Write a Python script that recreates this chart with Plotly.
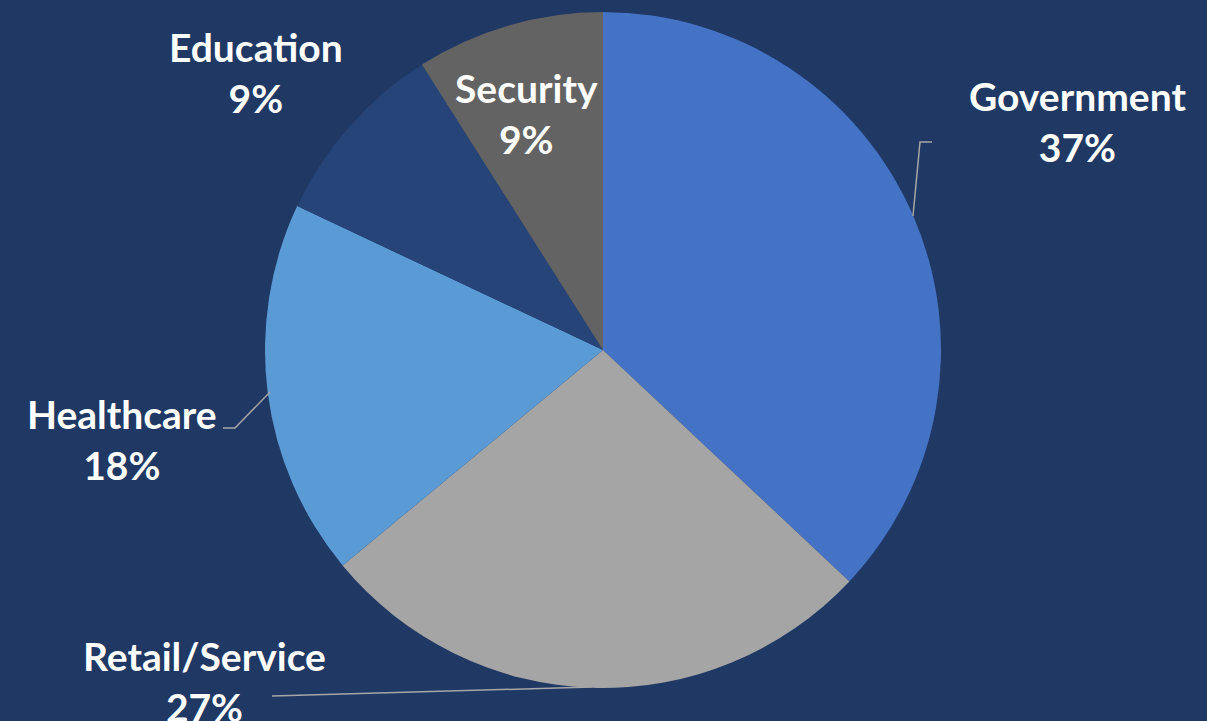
import plotly.graph_objects as go

# Sector share of respondents
sectors = ["Government", "Retail/Service", "Healthcare", "Education", "Security"]
shares = [37, 27, 18, 9, 9]
colors = ["#4472C4", "#A5A5A5", "#5B9BD5", "#264478", "#636363"]

W, H = 1207, 721
BG = "#203864"
FONT = "Lato"


def px(x, y):
    """Pixel position (top-left origin) -> paper fraction."""
    return x / W, 1 - y / H


# pie occupies a square of 676 px centred at (603, 350)
cx, cy, r = 603, 350, 338
x0, y1 = px(cx - r, cy - r)
x1, y0 = px(cx + r, cy + r)

fig = go.Figure()
fig.add_trace(go.Pie(
    labels=sectors,
    values=shares,
    sort=False,
    direction="clockwise",
    rotation=0,
    marker=dict(colors=colors, line=dict(width=0)),
    textinfo="none",
    hoverinfo="label+percent",
    showlegend=False,
    domain=dict(x=[x0, x1], y=[y0, y1]),
))

# label centres (pixels)
label_pos = {
    "Government": (1077, 121),
    "Retail/Service": (204, 681),
    "Healthcare": (122, 440),
    "Education": (256, 73),
    "Security": (526, 113),
}

annotations = []
for name, val in zip(sectors, shares):
    lx, ly = px(*label_pos[name])
    annotations.append(dict(
        x=lx, y=ly, xref="paper", yref="paper",
        text=f"<b>{name}<br>{val}%</b>",
        showarrow=False, xanchor="center", yanchor="middle",
        font=dict(family=FONT, size=39, color="white"),
    ))

# leader lines (pixel polylines)
leaders = [
    [(913, 216), (920, 142), (932, 142)],
    [(270, 392), (235, 428), (223, 428)],
    [(592, 687), (557, 688), (272, 696)],
]
shapes = []
for pts in leaders:
    path = ""
    for i, (x, y) in enumerate(pts):
        fx, fy = px(x, y)
        path += ("M" if i == 0 else "L") + f"{fx},{fy} "
    shapes.append(dict(type="path", xref="paper", yref="paper", path=path.strip(),
                       line=dict(color="#A6A6A6", width=1.5)))

fig.update_layout(
    width=W, height=H,
    margin=dict(l=0, r=0, t=0, b=0),
    paper_bgcolor=BG, plot_bgcolor=BG,
    annotations=annotations,
    shapes=shapes,
)

fig.write_html("out.html")
